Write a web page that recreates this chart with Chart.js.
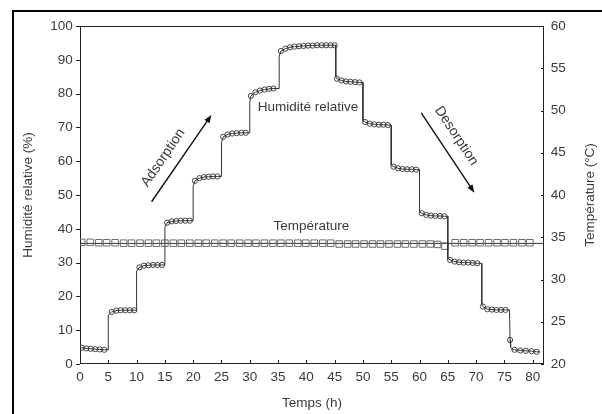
<!DOCTYPE html>
<html><head><meta charset="utf-8">
<script src="https://cdn.jsdelivr.net/npm/chart.js@4.4.1/dist/chart.umd.min.js"></script>
<style>html,body{margin:0;padding:0;background:#fff}#wrap{width:602px;height:414px;position:relative}</style>
</head><body><div id="wrap"><canvas id="c" width="602" height="414"></canvas></div>
<script>
// ---- data ----
const xTickValues = [0,5,10,15,20,25,30,35,40,45,50,55,60,65,70,75,80];
const yTickValues = [0,10,20,30,40,50,60,70,80,90,100];
const y2TickValues = [20,25,30,35,40,45,50,55,60];

// humidity markers (time h, RH %)
const humMarkT = [0.3,1.1,1.9,2.7,3.5,4.3,
  5.6,6.4,7.2,8.0,8.8,9.6,
  10.5,11.3,12.1,12.9,13.7,14.5,
  15.4,16.2,17.0,17.8,18.6,19.4,
  20.3,21.1,21.9,22.7,23.5,24.3,
  25.3,26.1,26.9,27.7,28.5,29.3,
  30.2,31.0,31.8,32.6,33.4,34.2,
  35.5,36.3,37.1,37.9,38.7,39.5,40.3,41.1,41.9,42.7,43.5,44.3,45.0,
  45.4,46.2,47.0,47.8,48.6,49.4,
  50.4,51.2,52.0,52.8,53.6,54.4,
  55.4,56.2,57.0,57.8,58.6,59.4,
  60.4,61.2,62.0,62.8,63.6,64.4,
  65.4,66.2,67.0,67.8,68.6,69.4,70.2,
  71.2,72.0,72.8,73.6,74.4,75.2,
  76.0,76.8,77.8,78.8,79.8,80.7];
const humMarkV = [4.8,4.6,4.5,4.4,4.3,4.2,
  15.4,15.8,15.9,15.9,15.9,15.9,
  28.6,29.1,29.2,29.3,29.3,29.3,
  41.8,42.2,42.3,42.4,42.4,42.4,
  54.2,55.0,55.3,55.4,55.5,55.5,
  67.2,67.9,68.2,68.3,68.4,68.4,
  79.3,80.4,80.9,81.2,81.4,81.5,
  92.6,93.3,93.7,93.9,94.0,94.1,94.2,94.2,94.3,94.3,94.3,94.3,94.3,
  84.4,83.9,83.6,83.5,83.4,83.3,
  71.6,71.1,70.9,70.8,70.8,70.7,
  58.4,57.9,57.7,57.6,57.6,57.5,
  44.6,44.1,43.9,43.8,43.8,43.7,
  30.8,30.3,30.1,30.0,30.0,29.9,29.8,
  17.0,16.2,16.1,16.0,16.0,16.0,
  7.1,4.2,4.0,3.9,3.8,3.6];
// extra vertices of the humidity curve at the step changes
const humCornerT = [0,5,5,10,10,15,15,20,20,25,25,30,30,35.2,35.2,45.2,45.2,50,50,55,55,60,60,65,65,71,71,75.9,76.1,76.4,81.3];
const humCornerV = [4.8,4.2,14.5,15.9,27.5,29.3,40.5,42.4,52.5,55.5,65.5,68.4,77.5,81.5,91.0,94.3,85.0,83.3,72.0,70.7,58.8,57.5,45.0,43.7,31.2,29.8,17.6,16.0,5.0,4.3,3.6];

// temperature markers (time h, °C)
const tempT = [0.3,1.8,3.3,4.7,6.2,7.7,9.1,10.6,12.1,13.5,15.0,16.5,17.9,19.4,20.9,22.3,23.8,25.3,26.7,28.2,29.7,31.1,32.6,34.1,35.5,37.0,38.5,39.9,41.4,42.9,44.3,45.8,47.3,48.7,50.2,51.7,53.1,54.6,56.1,57.5,59.0,60.5,61.9,63.2,64.5,66.3,67.8,69.3,70.7,72.2,73.7,75.1,76.6,78.1,79.5];
const tempV = [34.4,34.4,34.35,34.35,34.35,34.3,34.3,
  34.3,34.3,34.3,34.3,34.3,34.3,34.3,34.3,34.3,34.3,34.3,34.3,34.3,34.3,34.3,34.3,34.3,34.3,34.3,34.3,34.3,34.3,34.3,34.3,
  34.2,34.2,34.2,34.2,34.2,34.2,34.2,34.2,34.2,34.2,34.2,34.2,34.15,
  33.95,
  34.35,34.35,34.35,34.35,34.35,34.35,34.35,34.35,34.35,34.35];
const tempMeanT = [0,82];
const tempMeanV = [34.27,34.27];

// ---- build library tables ----
const pts = (xs, ys) => xs.map((x,i)=>({x:x, y:ys[i]}));
const humLine = pts(humMarkT.concat(humCornerT), humMarkV.concat(humCornerV))
  .map((p,i)=>({p,i})).sort((a,b)=>a.p.x-b.p.x || (a.i<humMarkT.length?1:0)-(b.i<humMarkT.length?1:0) || a.i-b.i).map(o=>o.p);

const FONT = '"Liberation Sans", Arial, sans-serif';
const TXT = '#3a3a3a';
Chart.defaults.font.family = FONT;
Chart.defaults.font.size = 13.5;
Chart.defaults.color = TXT;

const deco = {
  id:'deco',
  beforeDraw(chart){
    const c = chart.ctx; c.save(); c.fillStyle='#fff'; c.fillRect(0,0,chart.width,chart.height); c.restore();
  },
  beforeDatasetsDraw(chart){
    const c = chart.ctx, a = chart.chartArea, sx = chart.scales.x, sy = chart.scales.y, s2 = chart.scales.y2;
    c.save();
    c.strokeStyle = '#222'; c.lineWidth = 1;
    c.strokeRect(Math.round(a.left)+0.5, Math.round(a.top)+0.5, Math.round(a.right-a.left)-1, Math.round(a.bottom-a.top)-1);
    c.beginPath();
    sx.ticks.forEach(t=>{const p=Math.round(sx.getPixelForValue(t.value))+0.5; c.moveTo(p,a.bottom); c.lineTo(p,a.bottom-4);});
    sy.ticks.forEach(t=>{const p=Math.round(sy.getPixelForValue(t.value))+0.5; c.moveTo(a.left,p); c.lineTo(a.left-4,p);});
    s2.ticks.forEach(t=>{const p=Math.round(s2.getPixelForValue(t.value))+0.5; c.moveTo(a.right,p); c.lineTo(a.right-3,p);});
    c.stroke();
    c.restore();
  },
  afterDraw(chart){
    const c = chart.ctx, a = chart.chartArea, sx = chart.scales.x, sy = chart.scales.y;
    c.save();
    // outer frame
    c.fillStyle = '#000';
    c.fillRect(12,10,chart.width-12,2);
    c.fillRect(12,10,2,chart.height-10);
    // right axis title (reads bottom to top)
    c.fillStyle = TXT; c.font = '13.5px '+FONT; c.textAlign='center'; c.textBaseline='middle';
    c.save(); c.translate(590,(a.top+a.bottom)/2); c.rotate(-Math.PI/2); c.fillText('Température (°C)',0,0); c.restore();
    const P = (x,y)=>[sx.getPixelForValue(x), sy.getPixelForValue(y)];
    const label = (txt,x,y,ang)=>{const [px,py]=P(x,y); c.save(); c.translate(px,py); c.rotate(ang*Math.PI/180); c.fillText(txt,0,0); c.restore();};
    label('Humidité relative',40.3,76.1,0);
    label('Température',40.9,40.6,0);
    c.font = '14px '+FONT;
    label('Adsorption',14.7,61.0,-55.6);
    label('Desorption',66.5,67.5,56.5);
    const arrow = (x1,y1,x2,y2)=>{
      const [ax,ay]=P(x1,y1), [bx,by]=P(x2,y2);
      const ang = Math.atan2(by-ay,bx-ax), L=8, W=3;
      c.strokeStyle='#111'; c.fillStyle='#111'; c.lineWidth=1.4;
      c.beginPath(); c.moveTo(ax,ay); c.lineTo(bx-Math.cos(ang)*L*0.8,by-Math.sin(ang)*L*0.8); c.stroke();
      c.beginPath(); c.moveTo(bx,by);
      c.lineTo(bx-Math.cos(ang)*L-Math.sin(ang)*W, by-Math.sin(ang)*L+Math.cos(ang)*W);
      c.lineTo(bx-Math.cos(ang)*L+Math.sin(ang)*W, by-Math.sin(ang)*L-Math.cos(ang)*W);
      c.closePath(); c.fill();
    };
    arrow(12.65,48.0,23.24,73.7);
    arrow(60.3,74.3,69.7,50.7);
    c.restore();
  }
};

new Chart(document.getElementById('c'), {
  type:'scatter',
  data:{datasets:[
    {label:'Temp mean', data:pts(tempMeanT,tempMeanV), yAxisID:'y2', showLine:true, borderColor:'#333', borderWidth:1, pointRadius:0, order:3},
    {label:'Température', data:pts(tempT,tempV), yAxisID:'y2', showLine:false, pointStyle:'rect', pointRadius:4.6, borderColor:'#6a6a6a', backgroundColor:'rgba(0,0,0,0)', pointBorderWidth:1, order:2},
    {label:'HR line', data:humLine, yAxisID:'y', showLine:true, borderColor:'#333', borderWidth:1, pointRadius:0, order:1},
    {label:'Humidité relative', data:pts(humMarkT,humMarkV), yAxisID:'y', showLine:false, pointStyle:'circle', pointRadius:2.6, borderColor:'#333', backgroundColor:'rgba(0,0,0,0)', pointBorderWidth:0.9, order:0}
  ]},
  options:{
    responsive:false, animation:false, devicePixelRatio:1,
    layout:{padding:{top:26,left:0,right:0,bottom:0}},
    plugins:{legend:{display:false}, tooltip:{enabled:false}},
    scales:{
      x:{type:'linear', position:'bottom', min:0, max:82,
        afterBuildTicks:s=>{s.ticks = xTickValues.map(v=>({value:v}));},
        afterFit:s=>{s.height=50;},
        grid:{display:false, drawTicks:false}, border:{display:false},
        ticks:{padding:5, color:TXT, maxRotation:0, autoSkip:false},
        title:{display:true, text:'Temps (h)', color:TXT, padding:{top:0,bottom:2.6}}},
      y:{type:'linear', position:'left', min:0, max:100,
        afterBuildTicks:s=>{s.ticks = yTickValues.map(v=>({value:v}));},
        afterFit:s=>{s.width=80;},
        grid:{display:false, drawTicks:false}, border:{display:false},
        ticks:{padding:7.3, color:TXT},
        title:{display:true, text:'Humidité relative (%)', color:TXT, padding:{top:20,bottom:0}}},
      y2:{type:'linear', position:'right', min:20, max:60,
        afterBuildTicks:s=>{s.ticks = y2TickValues.map(v=>({value:v}));},
        afterFit:s=>{s.width=58;},
        grid:{display:false, drawTicks:false}, border:{display:false},
        ticks:{padding:6.7, color:TXT}}
    }
  },
  plugins:[deco]
});
</script></body></html>
